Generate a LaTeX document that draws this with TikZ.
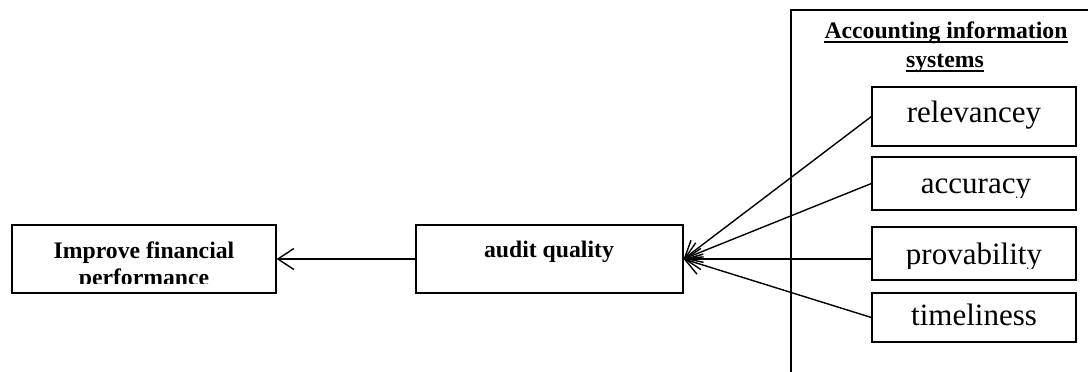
\documentclass[tikz,border=0pt]{standalone}
\usepackage{fontspec}
\setmainfont{Liberation Serif}
\usetikzlibrary{arrows.meta,calc}

\begin{document}
\begin{tikzpicture}[x=1pt,y=-1pt,
  box/.style={draw, rectangle, inner sep=0pt, line width=1.2pt},
  bold/.style={font=\fontsize{23.7}{28}\selectfont\bfseries, inner sep=0pt, anchor=base},
  item/.style={font=\fontsize{31}{36}\selectfont, inner sep=0pt, anchor=base},
  uline/.style={line width=1.5pt},
  link/.style={draw, line width=1.4pt, -{Straight Barb[length=16pt,width=21pt,line width=1.4pt]}}]
\useasboundingbox (0,0) rectangle (1088,372);
\clip (0,0) rectangle (1088,372);

% outer frame of the information-systems group (runs off the page)
\draw[line width=1.2pt] (1100,10) -- (791,10) -- (791,380);

% boxes
\node[box, minimum width=264pt, minimum height=68pt] (imp) at (144,259) {};
\node[box, minimum width=267pt, minimum height=68pt] (aq) at (549.5,259) {};
\node[box, minimum width=204pt, minimum height=59pt] (rel) at (974,116.5) {};
\node[box, minimum width=204pt, minimum height=53pt] (acc) at (974,183.5) {};
\node[box, minimum width=204pt, minimum height=53pt] (prov) at (974,253.5) {};
\node[box, minimum width=204pt, minimum height=49pt] (tim) at (974,317.5) {};

% group title, underlined
\node[bold] (ttl1) at (946,38) {Accounting information\ };
\node[bold] (ttl2) at (945,67) {systems};
\draw[uline] ($(ttl1.base west)+(0,4)$) -- ($(ttl1.base east)+(0,4)$);
\draw[uline] ($(ttl2.base west)+(0,4)$) -- ($(ttl2.base east)+(0,4)$);

% box labels (text cut off at the lower edge of the text area)
\begin{scope}
  \clip (imp.north west) rectangle ($(imp.south east)+(0,-10)$);
  \node[bold] (impt1) at (144,258) {Improve financial};
  \node[bold] (impt2) at (144,285) {performance};
\end{scope}
\node[bold] (aqt) at (549,257) {audit quality};
\node[item] (relt) at (974,122) {relevancey};
\begin{scope}
  \clip (acc.north west) rectangle ($(acc.south east)+(0,-13)$);
  \node[item] (acct) at (976,193) {accuracy};
\end{scope}
\begin{scope}
  \clip (prov.north west) rectangle ($(prov.south east)+(0,-12)$);
  \node[item] (provt) at (974,264) {provability};
\end{scope}
\node[item] (timt) at (974,325) {timeliness};

% connectors
\draw[link] (aq.west) -- (imp.east);
\draw[link] (rel.west) -- (aq.east);
\draw[link] (acc.west) -- (aq.east);
\draw[link] (prov.west |- aq.east) -- (aq.east);
\draw[link] (tim.west) -- (aq.east);
\end{tikzpicture}
\end{document}
